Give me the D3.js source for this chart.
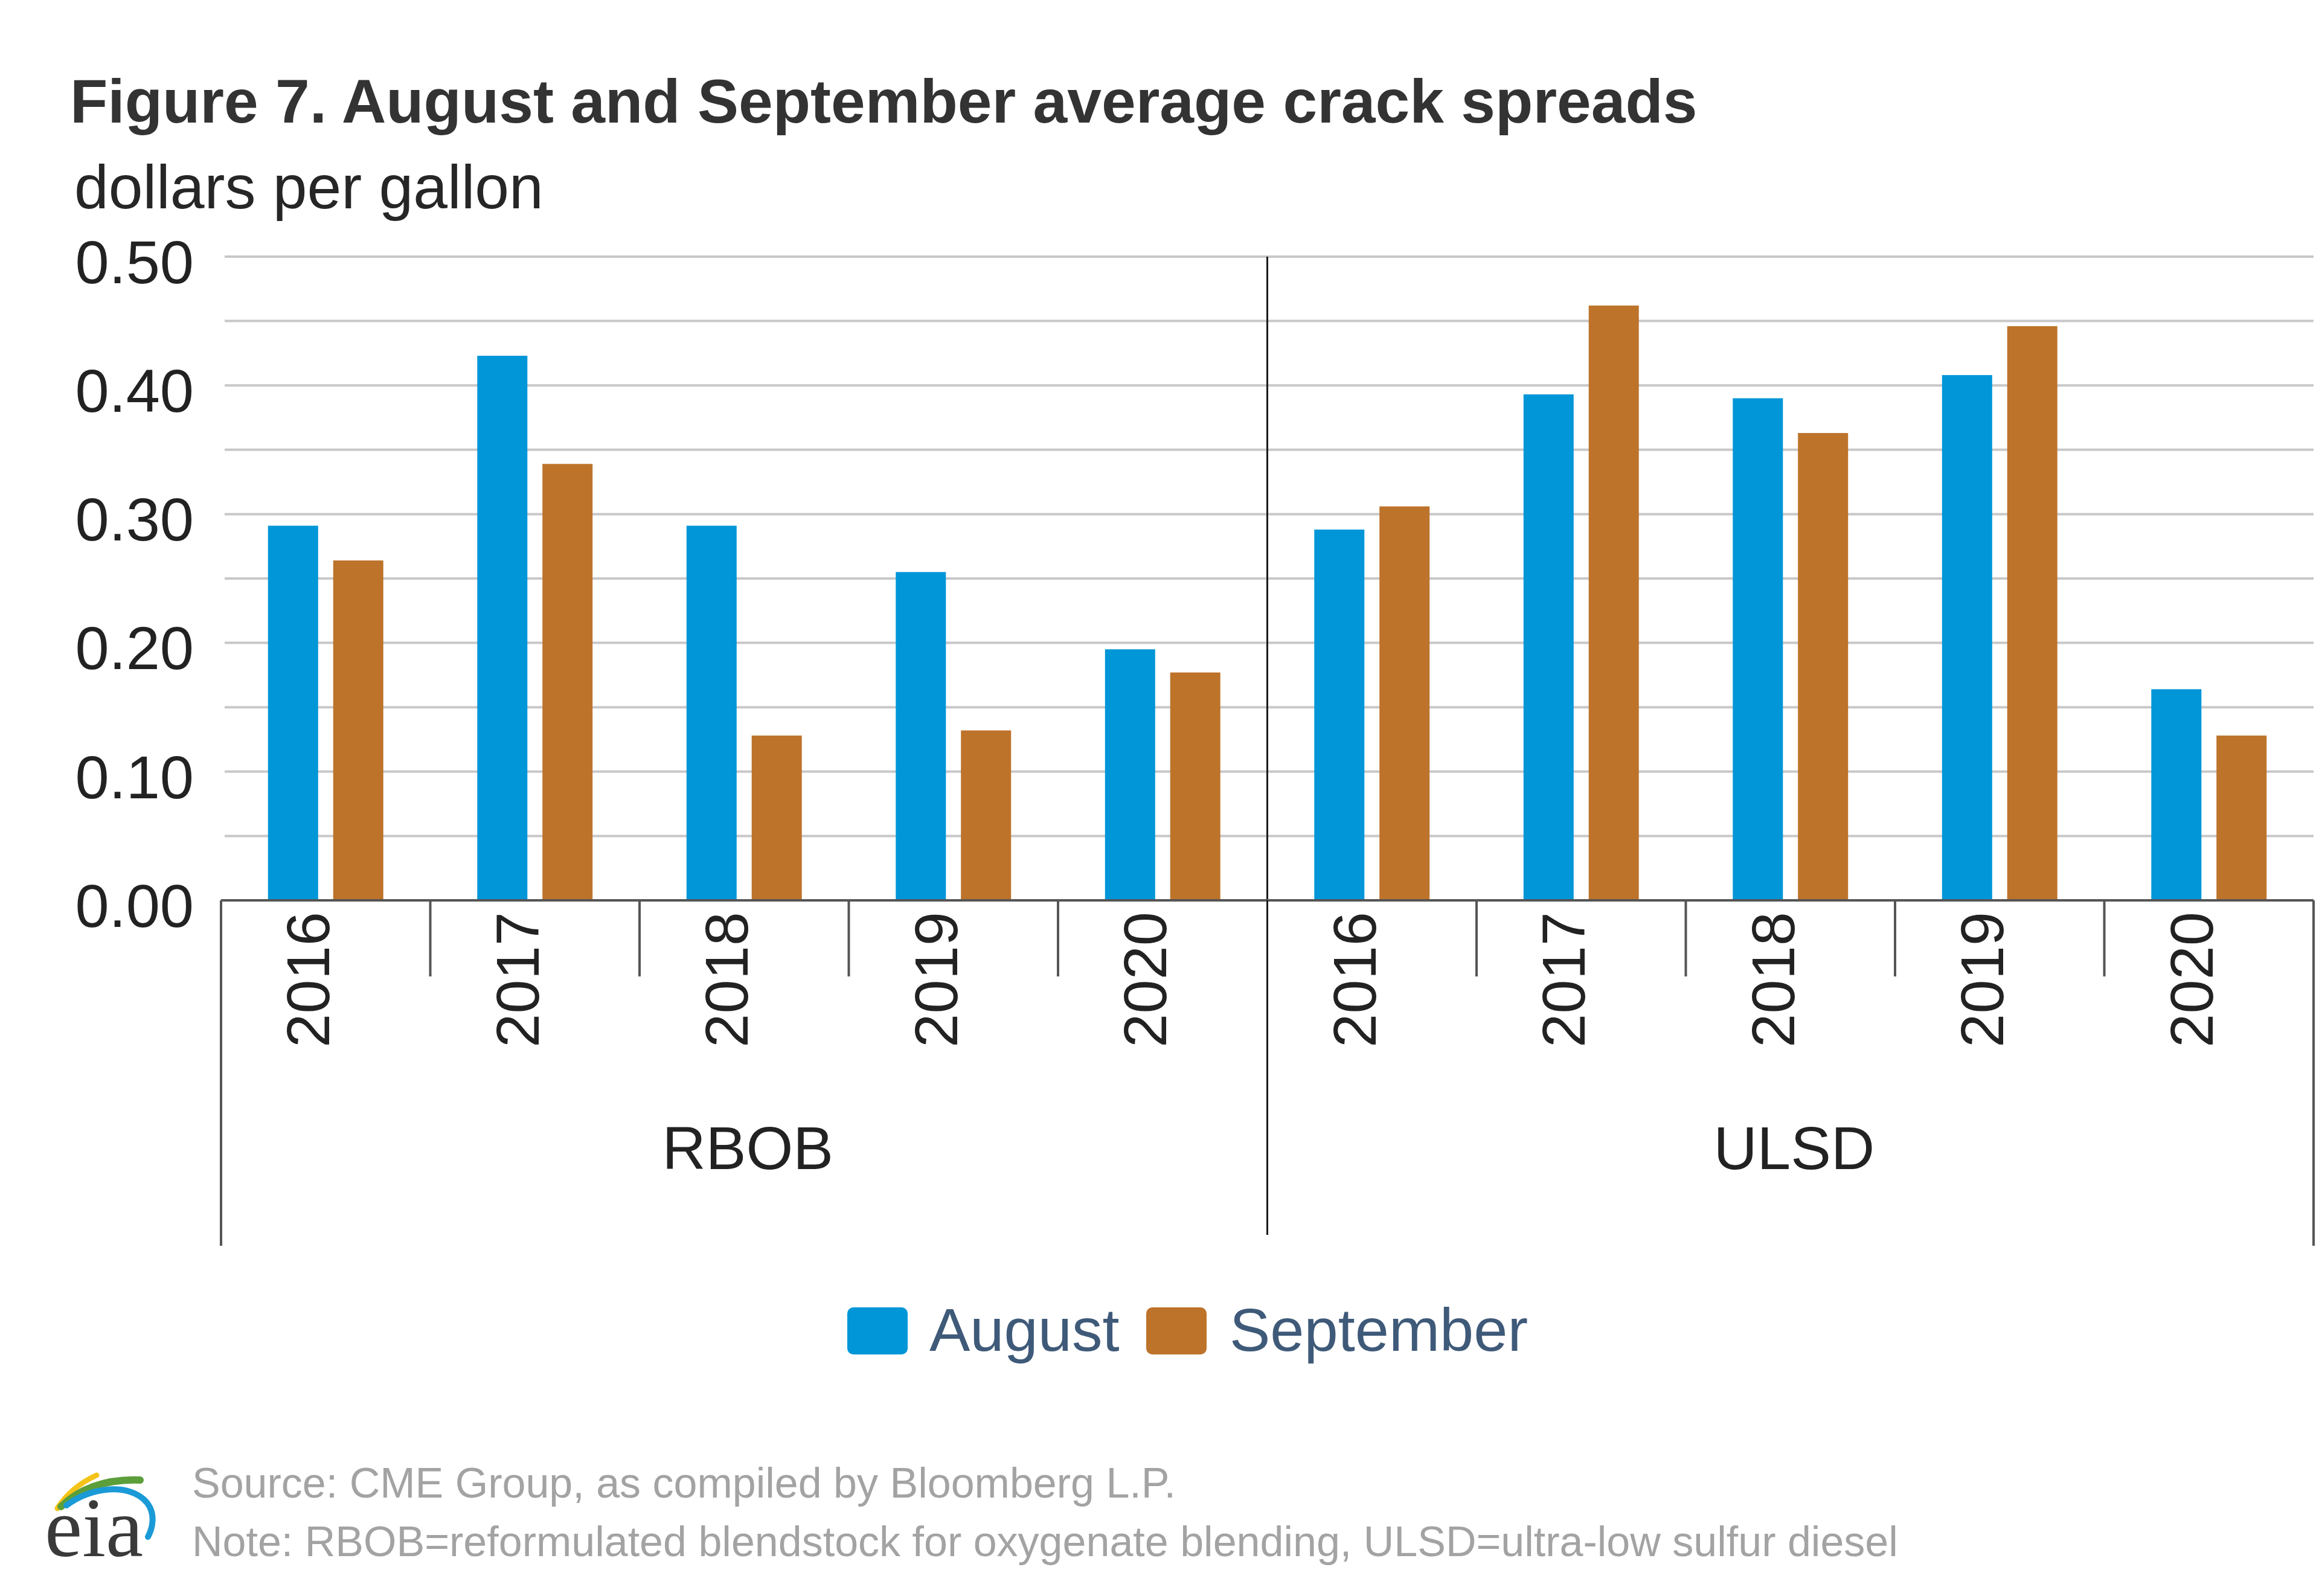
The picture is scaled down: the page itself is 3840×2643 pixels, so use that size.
<!DOCTYPE html>
<html>
<head>
<meta charset="utf-8">
<script src="https://cdn.jsdelivr.net/npm/d3@7"></script>
<style>
  html, body { margin: 0; padding: 0; background: #ffffff; }
  svg { display: block; }
  text { font-family: "Liberation Sans", Arial, "DejaVu Sans", sans-serif; }
  text.serif { font-family: "Liberation Serif", "DejaVu Serif", serif; }
</style>
</head>
<body>
<svg id="chart" width="3840" height="2643"></svg>
<script>
// ---------------- data ----------------
const groups = ["RBOB", "ULSD"];
const years = ["2016", "2017", "2018", "2019", "2020"];
const seriesNames = ["August", "September"];
const rbobAugust    = [0.291, 0.423, 0.291, 0.255, 0.195];
const rbobSeptember = [0.264, 0.339, 0.128, 0.132, 0.177];
const ulsdAugust    = [0.288, 0.393, 0.390, 0.408, 0.164];
const ulsdSeptember = [0.306, 0.462, 0.363, 0.446, 0.128];
const yTickValues = [0.00, 0.10, 0.20, 0.30, 0.40, 0.50];
const gridValues = [0.05, 0.10, 0.15, 0.20, 0.25, 0.30, 0.35, 0.40, 0.45, 0.50];
const titleText = "Figure 7. August and September average crack spreads";
const unitText = "dollars per gallon";
const sourceText = "Source: CME Group, as compiled by Bloomberg L.P.";
const noteText = "Note: RBOB=reformulated blendstock for oxygenate blending, ULSD=ultra-low sulfur diesel";
const colors = { August: "#0096d7", September: "#bd732a" };

// build table
const valuesByGroup = {
  RBOB: { August: rbobAugust, September: rbobSeptember },
  ULSD: { August: ulsdAugust, September: ulsdSeptember }
};
const rows = [];
groups.forEach(g => years.forEach((yr, i) => {
  rows.push({ key: g + "-" + yr, group: g, year: yr,
    values: seriesNames.map(s => ({ series: s, value: valuesByGroup[g][s][i] })) });
}));

// ---------------- layout ----------------
const svg = d3.select("#chart");
svg.append("rect").attr("width", 3840).attr("height", 2643).attr("fill", "#ffffff");

const plotLeft = 366, plotRight = 3831, plotTop = 425, plotBottom = 1491;

const x0 = d3.scaleBand().domain(rows.map(r => r.key)).range([plotLeft, plotRight]).padding(0);
const bw0 = x0.bandwidth();
const x1 = d3.scaleBand().domain(seriesNames)
  .range([bw0 * 0.2245, bw0 * 0.7755]).paddingInner(0.231).paddingOuter(0);
const y = d3.scaleLinear().domain([0, 0.5]).range([plotBottom, plotTop]);

// title + unit
svg.append("text").attr("x", 116).attr("y", 203)
  .attr("font-size", 102).attr("font-weight", "bold").attr("fill", "#333333")
  .text(titleText);
svg.append("text").attr("x", 123).attr("y", 345)
  .attr("font-size", 102).attr("fill", "#262626")
  .text(unitText);

// gridlines
svg.append("g").selectAll("line").data(gridValues).join("line")
  .attr("x1", 372).attr("x2", plotRight)
  .attr("y1", d => y(d)).attr("y2", d => y(d))
  .attr("stroke", "#c8c8c8").attr("stroke-width", 4);

// y axis labels
const yAxis = d3.axisLeft(y).tickValues(yTickValues).tickSize(0).tickPadding(51)
  .tickFormat(d3.format(".2f"));
const yg = svg.append("g").attr("transform", `translate(372,0)`).call(yAxis);
yg.select(".domain").remove();
yg.selectAll("text").attr("font-size", 101).attr("fill", "#222222").attr("y", 11);

// divider line between groups
const dividerX = x0(groups[1] + "-" + years[0]);
svg.append("line").attr("x1", dividerX).attr("x2", dividerX)
  .attr("y1", plotTop).attr("y2", 2045)
  .attr("stroke", "#1a1a1a").attr("stroke-width", 3);

// bars
const cat = svg.append("g").selectAll("g").data(rows).join("g")
  .attr("transform", d => `translate(${x0(d.key)},0)`);
cat.selectAll("rect").data(d => d.values).join("rect")
  .attr("x", d => x1(d.series))
  .attr("width", x1.bandwidth())
  .attr("y", d => y(d.value))
  .attr("height", d => y(0) - y(d.value))
  .attr("fill", d => colors[d.series]);

// x axis baseline
svg.append("line").attr("x1", plotLeft).attr("x2", plotRight)
  .attr("y1", plotBottom).attr("y2", plotBottom)
  .attr("stroke", "#555555").attr("stroke-width", 4);

// category boundary ticks
const boundaries = rows.map(r => x0(r.key)).concat([plotRight]);
svg.append("g").selectAll("line").data(boundaries).join("line")
  .attr("x1", d => d).attr("x2", d => d)
  .attr("y1", plotBottom)
  .attr("y2", (d, i) => (i === 0 || i === boundaries.length - 1) ? 2063 : (d === dividerX ? 2045 : 1617))
  .attr("stroke", (d) => d === dividerX ? "#1a1a1a" : "#555555")
  .attr("stroke-width", (d) => d === dividerX ? 3 : 4);

// year labels (rotated)
svg.append("g").selectAll("text").data(rows).join("text")
  .attr("transform", d => `translate(${x0(d.key) + bw0 / 2 + 6},1510) rotate(-90)`)
  .attr("text-anchor", "end")
  .attr("font-size", 101).attr("fill", "#222222")
  .text(d => d.year);

// group labels
svg.append("g").selectAll("text").data(groups).join("text")
  .attr("x", g => {
    const ks = rows.filter(r => r.group === g).map(r => x0(r.key));
    return (d3.min(ks) + d3.max(ks) + bw0) / 2 + 6;
  })
  .attr("y", 1936).attr("text-anchor", "middle")
  .attr("font-size", 100).attr("fill", "#222222")
  .text(g => g);

// legend
const legendItems = [
  { name: seriesNames[0], rx: 1403, tx: 1539 },
  { name: seriesNames[1], rx: 1898, tx: 2036 }
];
const lg = svg.append("g");
lg.selectAll("rect").data(legendItems).join("rect")
  .attr("x", d => d.rx).attr("y", 2165).attr("width", 100).attr("height", 78)
  .attr("rx", 10).attr("fill", d => colors[d.name]);
lg.selectAll("text").data(legendItems).join("text")
  .attr("x", d => d.tx).attr("y", 2237)
  .attr("font-size", 101).attr("fill", "#3f5a79")
  .text(d => d.name);

// footer
svg.append("text").attr("x", 318).attr("y", 2480)
  .attr("font-size", 70).attr("fill", "#a3a3a3").text(sourceText);
svg.append("text").attr("x", 318).attr("y", 2577)
  .attr("font-size", 70).attr("fill", "#a3a3a3").text(noteText);

// eia logo
const logo = svg.append("g");
logo.append("path").attr("d", "M95,2498 Q118,2462 160,2443")
  .attr("fill", "none").attr("stroke", "#f5c319").attr("stroke-width", 9).attr("stroke-linecap", "round");
logo.append("path").attr("d", "M101,2495 Q150,2448 232,2451")
  .attr("fill", "none").attr("stroke", "#5c9e3a").attr("stroke-width", 12).attr("stroke-linecap", "round");
logo.append("path").attr("d", "M110,2493 C150,2462 215,2455 243,2488 C258,2507 253,2530 245,2545")
  .attr("fill", "none").attr("stroke", "#1a9ad6").attr("stroke-width", 10).attr("stroke-linecap", "round");
logo.append("text").attr("class", "serif").attr("x", 74).attr("y", 2577)
  .attr("font-size", 140).attr("fill", "#3a3a3a").text("eia");
</script>
</body>
</html>
